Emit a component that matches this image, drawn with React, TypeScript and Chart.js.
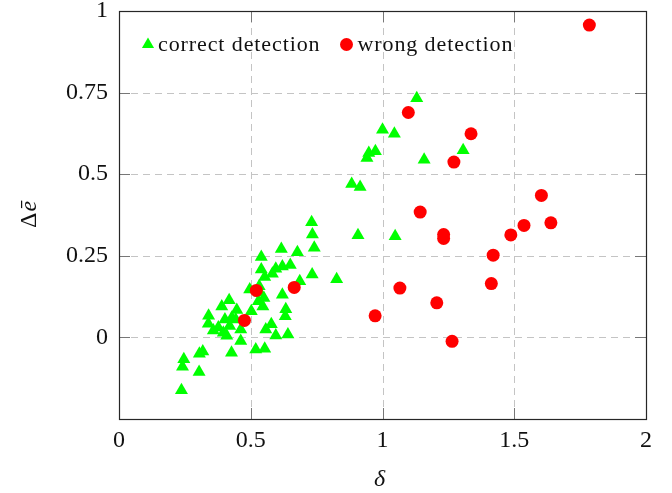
import React, { useEffect, useRef } from "react";
import { Chart, registerables } from "chart.js";

Chart.register(...registerables);

// ---------- data ----------
const xTicks = [0, 0.5, 1, 1.5, 2];
const yTicks = [0, 0.25, 0.5, 0.75, 1];
const seriesNames = ["correct detection", "wrong detection"];
const xTitle = "δ";
const yTitleMain = "Δ";
const yTitleVar = "ē";

const correctX = [
  1.13, 1.0, 1.045, 0.948, 0.973, 0.941, 1.158, 1.306, 0.883, 0.915, 0.907, 1.048,
  0.731, 0.734, 0.741, 0.616, 0.677, 0.54, 0.54, 0.595, 0.62, 0.65, 0.582, 0.553,
  0.733, 0.826, 0.686, 0.496, 0.532, 0.535, 0.62, 0.55, 0.529, 0.546, 0.633, 0.631,
  0.418, 0.39, 0.502, 0.447, 0.34, 0.402, 0.428, 0.339, 0.358, 0.377, 0.396, 0.409,
  0.42, 0.443, 0.462, 0.557, 0.578, 0.595, 0.641, 0.462, 0.427, 0.519, 0.553, 0.318,
  0.305, 0.246, 0.241, 0.304, 0.237,
];
const correctY = [
  0.733, 0.636, 0.624, 0.565, 0.57, 0.55, 0.544, 0.573, 0.47, 0.461, 0.313, 0.31,
  0.353, 0.315, 0.275, 0.271, 0.261, 0.246, 0.208, 0.21, 0.217, 0.222, 0.195, 0.185,
  0.193, 0.178, 0.172, 0.147, 0.157, 0.137, 0.131, 0.121, 0.111, 0.095, 0.086, 0.065,
  0.114, 0.095, 0.08, 0.084, 0.066, 0.055, 0.06, 0.042, 0.021, 0.03, 0.014, 0.005,
  0.035, 0.055, 0.024, 0.024, 0.04, 0.006, 0.009, -0.011, -0.047, -0.037, -0.035, -0.043,
  -0.05, -0.067, -0.09, -0.106, -0.162,
];

const wrongX = [
  1.785, 1.098, 1.336, 1.271, 1.143, 1.232, 1.232, 1.603, 1.537, 1.639,
  1.487, 1.42, 1.413, 1.066, 1.206, 0.972, 1.264, 0.521, 0.665, 0.476,
];
const wrongY = [
  0.957, 0.689, 0.624, 0.537, 0.384, 0.315, 0.303, 0.435, 0.343, 0.351,
  0.314, 0.252, 0.165, 0.151, 0.106, 0.066, -0.012, 0.144, 0.153, 0.052,
];

// ---------- style ----------
const GREEN = "#00ff00";
const RED = "#ff0000";
const SERIF = '"Liberation Serif", "Times New Roman", serif';

const decorPlugin = {
  id: "decor",
  beforeDatasetsDraw(chart: any) {
    const { ctx, chartArea: a, scales } = chart;
    ctx.save();
    ctx.strokeStyle = "#c4c4c4";
    ctx.lineWidth = 1;
    ctx.setLineDash([7, 5]);
    xTicks.forEach((v) => {
      if (v === xTicks[0] || v === xTicks[xTicks.length - 1]) return;
      const x = Math.round(scales.x.getPixelForValue(v)) + 0.5;
      ctx.beginPath();
      ctx.moveTo(x, a.bottom);
      ctx.lineTo(x, a.top);
      ctx.stroke();
    });
    yTicks.forEach((v) => {
      const y = Math.round(scales.y.getPixelForValue(v)) + 0.5;
      if (y <= a.top + 1 || y >= a.bottom - 1) return;
      ctx.beginPath();
      ctx.moveTo(a.left, y);
      ctx.lineTo(a.right, y);
      ctx.stroke();
    });
    ctx.restore();
  },
  afterDatasetsDraw(chart: any) {
    const { ctx, chartArea: a, scales } = chart;
    ctx.save();
    const tl = 11;
    ctx.strokeStyle = "#777777";
    ctx.lineWidth = 1;
    xTicks.forEach((v) => {
      const x = Math.round(scales.x.getPixelForValue(v)) + 0.5;
      ctx.beginPath();
      ctx.moveTo(x, a.bottom);
      ctx.lineTo(x, a.bottom - tl);
      ctx.moveTo(x, a.top);
      ctx.lineTo(x, a.top + tl);
      ctx.stroke();
    });
    yTicks.forEach((v) => {
      const y = Math.round(scales.y.getPixelForValue(v)) + 0.5;
      ctx.beginPath();
      ctx.moveTo(a.left, y);
      ctx.lineTo(a.left + tl, y);
      ctx.moveTo(a.right, y);
      ctx.lineTo(a.right - tl, y);
      ctx.stroke();
    });
    ctx.strokeStyle = "#262626";
    ctx.lineWidth = 1.2;
    ctx.strokeRect(
      Math.round(a.left) + 0.5,
      Math.round(a.top) + 0.5,
      Math.round(a.right - a.left),
      Math.round(a.bottom - a.top)
    );
    ctx.restore();
  },
  afterDraw(chart: any) {
    const { ctx, chartArea: a } = chart;
    ctx.save();
    // legend
    const ly = a.top + 33.5;
    ctx.fillStyle = GREEN;
    const tx = a.left + 29;
    const r = 7;
    ctx.beginPath();
    ctx.moveTo(tx, ly - r);
    ctx.lineTo(tx + r * Math.sin((2 * Math.PI) / 3), ly - r * Math.cos((2 * Math.PI) / 3));
    ctx.lineTo(tx + r * Math.sin((4 * Math.PI) / 3), ly - r * Math.cos((4 * Math.PI) / 3));
    ctx.closePath();
    ctx.fill();
    ctx.fillStyle = "#111111";
    ctx.font = `22px ${SERIF}`;
    (ctx as any).letterSpacing = "0.9px";
    ctx.textBaseline = "alphabetic";
    ctx.textAlign = "left";
    ctx.fillText(seriesNames[0], a.left + 39, a.top + 40);
    ctx.fillStyle = RED;
    ctx.beginPath();
    ctx.arc(a.left + 227.5, ly, 6.5, 0, Math.PI * 2);
    ctx.fill();
    ctx.fillStyle = "#111111";
    ctx.fillText(seriesNames[1], a.left + 238.5, a.top + 40);
    (ctx as any).letterSpacing = "0px";

    // x title
    ctx.font = `italic 24px ${SERIF}`;
    ctx.textAlign = "center";
    ctx.textBaseline = "alphabetic";
    ctx.fillText(xTitle, (a.left + a.right) / 2 - 3, 486);

    // y title
    ctx.translate(27.5, (a.top + a.bottom) / 2);
    ctx.rotate(-Math.PI / 2);
    ctx.font = `24px ${SERIF}`;
    const w1 = ctx.measureText(yTitleMain).width;
    ctx.font = `italic 24px ${SERIF}`;
    const w2 = ctx.measureText(yTitleVar).width;
    const start = -(w1 + w2) / 2;
    ctx.textAlign = "left";
    ctx.font = `24px ${SERIF}`;
    ctx.fillText(yTitleMain, start, 8.5);
    ctx.font = `italic 24px ${SERIF}`;
    ctx.fillText(yTitleVar, start + w1 + 1, 8.5);
    ctx.restore();
  },
};

export default function App() {
  const ref = useRef<HTMLCanvasElement | null>(null);

  useEffect(() => {
    if (!ref.current) return;
    const chart = new Chart(ref.current, {
      type: "scatter",
      data: {
        datasets: [
          {
            label: seriesNames[0],
            data: correctX.map((x, i) => ({ x, y: correctY[i] })),
            pointStyle: "triangle",
            pointRadius: 7.5,
            pointHoverRadius: 7.5,
            backgroundColor: GREEN,
            borderColor: GREEN,
            borderWidth: 0,
            order: 2,
          },
          {
            label: seriesNames[1],
            data: wrongX.map((x, i) => ({ x, y: wrongY[i] })),
            pointStyle: "circle",
            pointRadius: 6.5,
            pointHoverRadius: 6.5,
            backgroundColor: RED,
            borderColor: RED,
            borderWidth: 0,
            order: 1,
          },
        ],
      },
      options: {
        animation: false,
        responsive: false,
        maintainAspectRatio: false,
        events: [],
        layout: { padding: { top: 11, right: 26, left: 0, bottom: 0 } },
        plugins: {
          legend: { display: false },
          tooltip: { enabled: false },
        },
        scales: {
          x: {
            type: "linear",
            min: 0,
            max: 2,
            grid: { display: false, drawTicks: false },
            border: { display: false },
            afterBuildTicks: (s: any) => {
              s.ticks = xTicks.map((v) => ({ value: v }));
            },
            afterFit: (s: any) => {
              s.height = 74;
              s.paddingLeft = 0;
              s.paddingRight = 0;
            },
            ticks: {
              padding: 7,
              color: "#111111",
              font: { family: SERIF, size: 24 },
              maxRotation: 0,
              autoSkip: false,
              callback: (v: any) => String(v),
            },
          },
          y: {
            type: "linear",
            min: -0.25,
            max: 1,
            grid: { display: false, drawTicks: false },
            border: { display: false },
            afterBuildTicks: (s: any) => {
              s.ticks = yTicks.map((v) => ({ value: v }));
            },
            afterFit: (s: any) => {
              s.width = 119;
              s.paddingTop = 0;
              s.paddingBottom = 0;
            },
            ticks: {
              padding: 11,
              color: "#111111",
              font: { family: SERIF, size: 24 },
              autoSkip: false,
              callback: (v: any) => String(v),
            },
          },
        },
      },
      plugins: [decorPlugin],
    });
    return () => chart.destroy();
  }, []);

  return (
    <div style={{ position: "absolute", left: 0, top: 0, width: 672, height: 493 }}>
      <canvas ref={ref} width={672} height={493} style={{ display: "block", width: 672, height: 493 }} />
    </div>
  );
}
